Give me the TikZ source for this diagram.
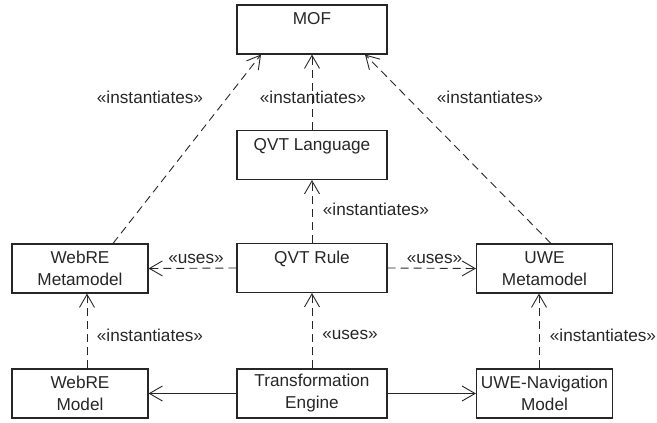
\documentclass[tikz,border=0pt]{standalone}
\usepackage{fontspec}
\setmainfont{Liberation Sans}
\usetikzlibrary{arrows.meta,calc}
\begin{document}
\begin{tikzpicture}[x=1pt,y=-1pt,
  box/.style={draw=black!85, line width=1.1pt, minimum height=49pt, align=center,
    inner sep=0pt, font=\fontsize{17.2}{22}\selectfont, text=black!85},
  wide/.style={box, minimum width=150pt},
  side/.style={box, minimum width=136pt},
  dep/.style={draw=black!85, line width=0.9pt, dash pattern=on 8pt off 5pt,
    -{Straight Barb[length=13pt,width=15pt]}},
  assoc/.style={draw=black!85, line width=0.9pt,
    -{Straight Barb[length=13pt,width=15pt]}},
  stereo/.style={font=\fontsize{17.2}{20}\selectfont, text=black!85, inner sep=1pt}]
\useasboundingbox (0,0) rectangle (657,423);

% classes
\node[wide] (mof) at (312,29.5) {MOF\\\phantom{M}};
\node[wide] (qvtl) at (312,155) {QVT Language\\\phantom{M}};
\node[wide] (qvtr) at (312,268) {QVT Rule\\\phantom{M}};
\node[side] (wrmm) at (80,268.5) {WebRE\\Metamodel};
\node[side] (uwemm) at (544.5,268.5) {UWE\\Metamodel};
\node[side] (wrm) at (80,393.5) {WebRE\\Model};
\node[wide] (te) at (312,393.5) {Transformation\\Engine};
\node[side] (uwenav) at (544.5,393.5) {UWE-Navigation\\Model};

% instantiation dependencies towards MOF
\draw[dep] ($(wrmm.north)+(33,0)$) -- ($(mof.south)+(-51,0)$);
\draw[dep] (qvtl.north) -- (mof.south);
\draw[dep] ($(uwemm.north)+(6.5,0)$) -- ($(mof.south)+(53,0)$);

% QVT rule dependencies
\draw[dep] (qvtr.north) -- (qvtl.south);
\draw[dep] (qvtr.west) -- (wrmm.east);
\draw[dep] (qvtr.east) -- (uwemm.east -| uwemm.west);
\draw[dep] (te.north) -- (qvtr.south);

% model instantiations
\draw[dep] ($(wrm.north)+(7,0)$) -- ($(wrmm.south)+(7,0)$);
\draw[dep] ($(uwenav.north)+(-5.5,0)$) -- ($(uwemm.south)+(-5.5,0)$);

% transformation engine associations
\draw[assoc] (te.west) -- (wrm.east);
\draw[assoc] (te.east) -- (uwenav.west);

% stereotype labels
\node[stereo] (s1) at (150,97) {«instantiates»};
\node[stereo] (s2) at (313,97) {«instantiates»};
\node[stereo] (s3) at (490,97) {«instantiates»};
\node[stereo] (s4) at (376,209) {«instantiates»};
\node[stereo] (s5) at (196,259) {«uses»};
\node[stereo] (s6) at (434.5,259) {«uses»};
\node[stereo] (s7) at (150,335) {«instantiates»};
\node[stereo] (s8) at (350,335) {«uses»};
\node[stereo] (s9) at (603,335) {«instantiates»};
\end{tikzpicture}
\end{document}
